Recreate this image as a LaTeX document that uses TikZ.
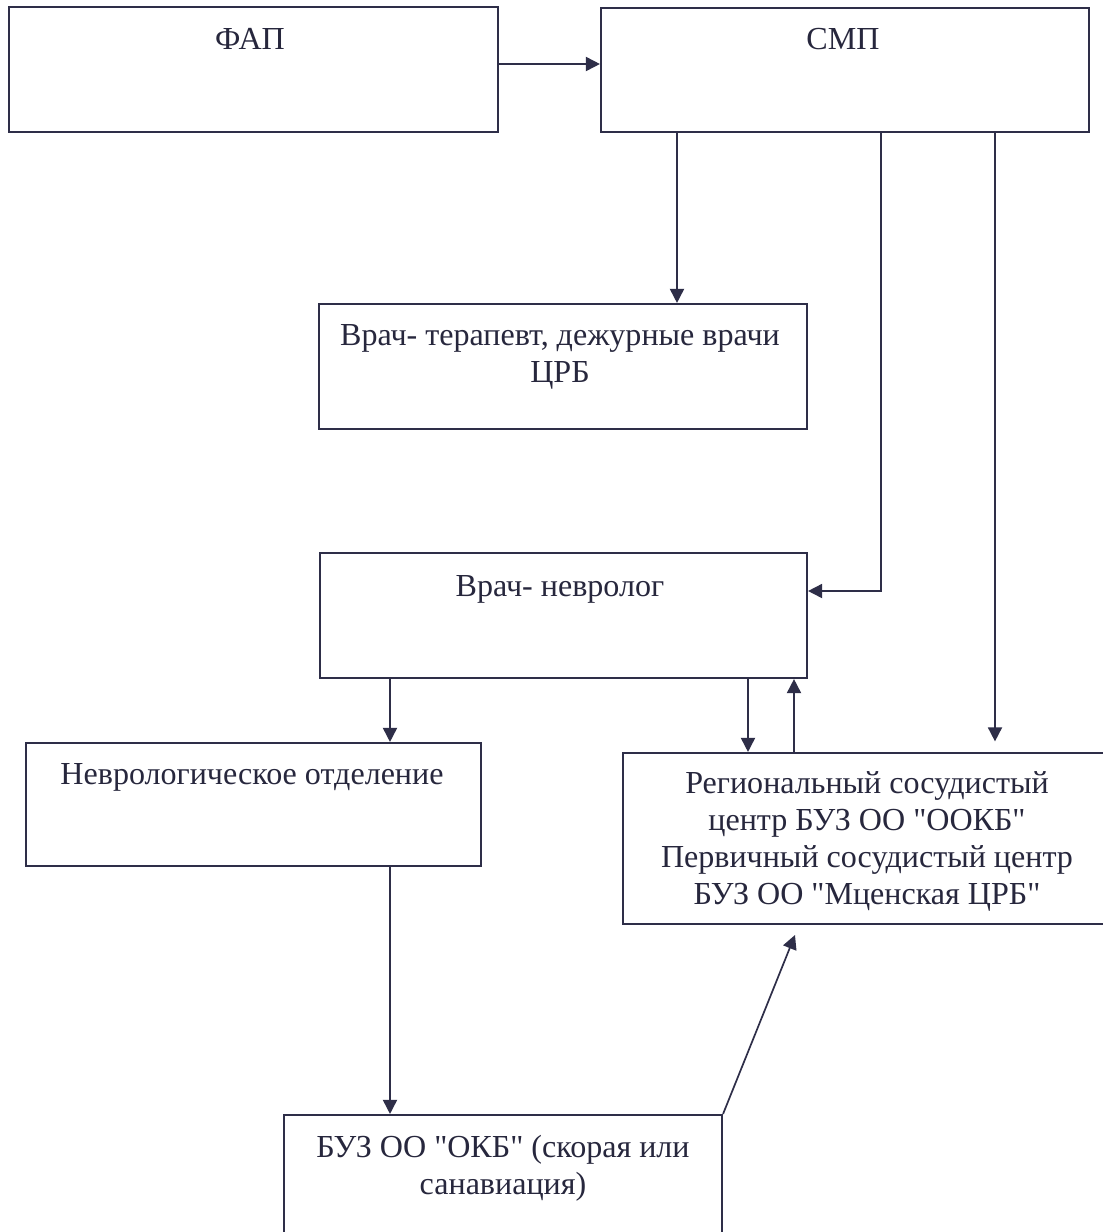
\documentclass[tikz,border=0pt]{standalone}
\usepackage{fontspec}
\setmainfont{Liberation Serif}
\newfontfamily\bodyfont{Liberation Serif}
\usepackage{tikz}
\usetikzlibrary{arrows.meta, fit}
\definecolor{inkc}{HTML}{2E2E48}

\begin{document}
\begin{tikzpicture}[x=0.025cm, y=-0.025cm,
  box/.style={draw=inkc, line width=1.5pt, inner sep=0pt},
  txt/.style={align=center, text=inkc!85!black, inner sep=0pt,
    font=\bodyfont\fontsize{22.8}{26.3}\selectfont},
  arr/.style={draw=inkc, line width=1.2pt, -{Triangle[length=10pt,width=10pt]}}]
\clip (0,0) rectangle (1103,1232);
\fill[white] (0,0) rectangle (1103,1232);

% boxes
\node[box, fit={(9,7) (498,132)}] (fap) {};
\node[box, fit={(601,8) (1089,132)}] (smp) {};
\node[box, fit={(319,304) (807,429)}] (terap) {};
\node[box, fit={(320,553) (807,678)}] (nevrolog) {};
\node[box, fit={(26,743) (481,866)}] (otdel) {};
\node[box, fit={(623,753) (1115,924)}] (rsc) {};
\node[box, fit={(284,1115) (722,1250)}] (buz) {};

% texts
\node[txt, anchor=base] (faptxt) at (250,49) {ФАП};
\node[txt, anchor=base] (smptxt) at (843,49) {СМП};
\node[txt] (teraptxt) at (560,357) {Врач- терапевт, дежурные врачи\\ЦРБ};
\node[txt, anchor=base] (nevrologtxt) at (560,596) {Врач- невролог};
\node[txt, anchor=base] (otdeltxt) at (252,784) {Неврологическое отделение};
\node[txt] (rsctxt) at (867,841) {Региональный сосудистый\\центр БУЗ ОО "ООКБ"\\Первичный сосудистый центр\\БУЗ ОО "Мценская ЦРБ"};
\node[txt] (buztxt) at (503,1168) {БУЗ ОО "ОКБ" (скорая или\\санавиация)};

% connectors
\coordinate (c0) at (0,64);
\coordinate (c1) at (677,0);
\coordinate (c2) at (881,591);
\coordinate (c3) at (995,0);
\coordinate (c4) at (390,0);
\coordinate (c5) at (748,0);
\coordinate (c6) at (794,0);
\coordinate (c7) at (795,935);

\draw[arr] (fap.east |- c0) -- (smp.west |- c0);
\draw[arr] (smp.south -| c1) -- (terap.north -| c1);
\draw[arr] (smp.south -| c2) |- (nevrolog.east |- c2);
\draw[arr, shorten >=7.5pt] (smp.south -| c3) -- (rsc.north -| c3);
\draw[arr] (nevrolog.south -| c4) -- (otdel.north -| c4);
\draw[arr] (nevrolog.south -| c5) -- (rsc.north -| c5);
\draw[arr] (rsc.north -| c6) -- (nevrolog.south -| c6);
\draw[arr] (otdel.south -| c4) -- (buz.north -| c4);
\draw[arr] (buz.north east) -- (c7);
\end{tikzpicture}
\end{document}
